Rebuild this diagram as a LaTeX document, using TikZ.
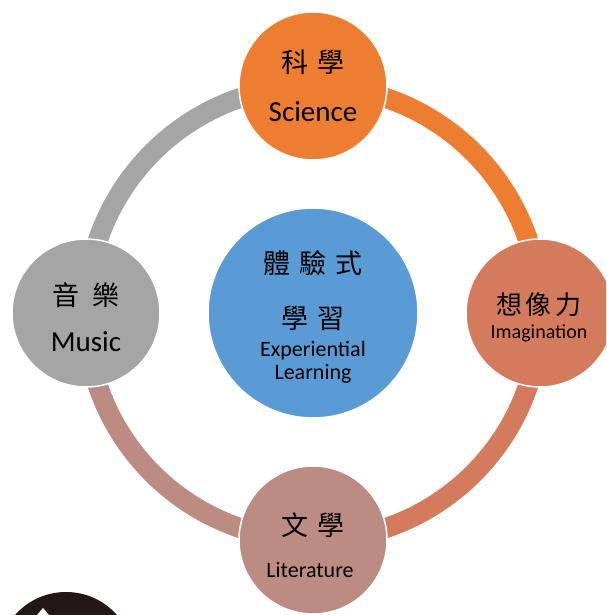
\documentclass[tikz,border=0pt]{standalone}
\usepackage{fontspec}
\setmainfont{Carlito}
\newfontfamily\cjk{Noto Sans CJK TC}
\definecolor{sciC}{HTML}{ED7D31}
\definecolor{imaC}{RGB}{212,123,93}
\definecolor{litC}{RGB}{188,140,131}
\definecolor{musC}{HTML}{A5A5A5}
\definecolor{expC}{HTML}{5B9BD5}
\definecolor{logoC}{RGB}{35,24,21}
\pgfdeclarelayer{bg}
\pgfsetlayers{bg,main}
\begin{document}
\begin{tikzpicture}[x=1pt,y=1pt,
  hub/.style={circle, minimum size=148pt, inner sep=0pt, draw=white, line width=1.5pt},
  core/.style={circle, minimum size=210pt, inner sep=0pt, draw=white, line width=1.5pt, fill=expC},
  ringarc/.style={line width=20pt},
  zh/.style={font=\cjk\fontsize{27}{27}\selectfont, inner sep=0pt, anchor=center},
  en/.style={inner sep=0pt, anchor=base}]
\useasboundingbox (0,0) rectangle (606,615);
\clip (0,0) rectangle (606,615);
% hubs
\node[core] (exp) at (313,302) {};
\node[hub, fill=sciC] (sci) at (313,529) {};
\node[hub, fill=imaC] (ima) at (540,302) {};
\node[hub, fill=litC] (lit) at (313,75) {};
\node[hub, fill=musC] (mus) at (86,302) {};
% ring arcs
\begin{pgfonlayer}{bg}
\draw[ringarc, sciC] (sci.center) arc[start angle=90, end angle=0, radius=227];
\draw[ringarc, imaC] (ima.center) arc[start angle=0, end angle=-90, radius=227];
\draw[ringarc, litC] (lit.center) arc[start angle=270, end angle=180, radius=227];
\draw[ringarc, musC] (mus.center) arc[start angle=180, end angle=90, radius=227];
\end{pgfonlayer}
% texts
\node[zh] (sciZh) at ([yshift=24pt]sci.center) {科\hspace{9pt}學};
\node[en, font=\fontsize{29}{29}\selectfont] (sciEn) at ([yshift=-36pt]sci.center) {Science};
\node[zh] (expZh1) at ([yshift=50pt]exp.center) {體\hspace{9pt}驗\hspace{9pt}式};
\node[zh] (expZh2) at ([yshift=-5pt]exp.center) {學\hspace{9pt}習};
\node[en, font=\fontsize{22}{22}\selectfont] (expEn1) at ([yshift=-44pt]exp.center) {Experiential};
\node[en, font=\fontsize{22}{22}\selectfont] (expEn2) at ([yshift=-67pt]exp.center) {Learning};
\node[zh, font=\cjk\fontsize{26}{26}\selectfont] (imaZh) at ([yshift=8pt,xshift=-1pt]ima.center) {想\hspace{4pt}像\hspace{4pt}力};
\node[en, font=\fontsize{20}{20}\selectfont] (imaEn) at ([yshift=-26pt,xshift=-1pt]ima.center) {Imagination};
\node[zh] (musZh) at ([yshift=18pt]mus.center) {音\hspace{14pt}樂};
\node[en, font=\fontsize{29}{29}\selectfont] (musEn) at ([yshift=-39pt]mus.center) {Music};
\node[zh] (litZh) at ([yshift=15pt]lit.center) {文\hspace{10pt}學};
\node[en, font=\fontsize{22}{22}\selectfont] (litEn) at ([yshift=-38pt,xshift=-3pt]lit.center) {Literature};
% partial logo at bottom left
\fill[logoC] (66,-45) circle (68);
\fill[white] (37,0) -- (43,7) -- (49,0) -- cycle;
\end{tikzpicture}
\end{document}
